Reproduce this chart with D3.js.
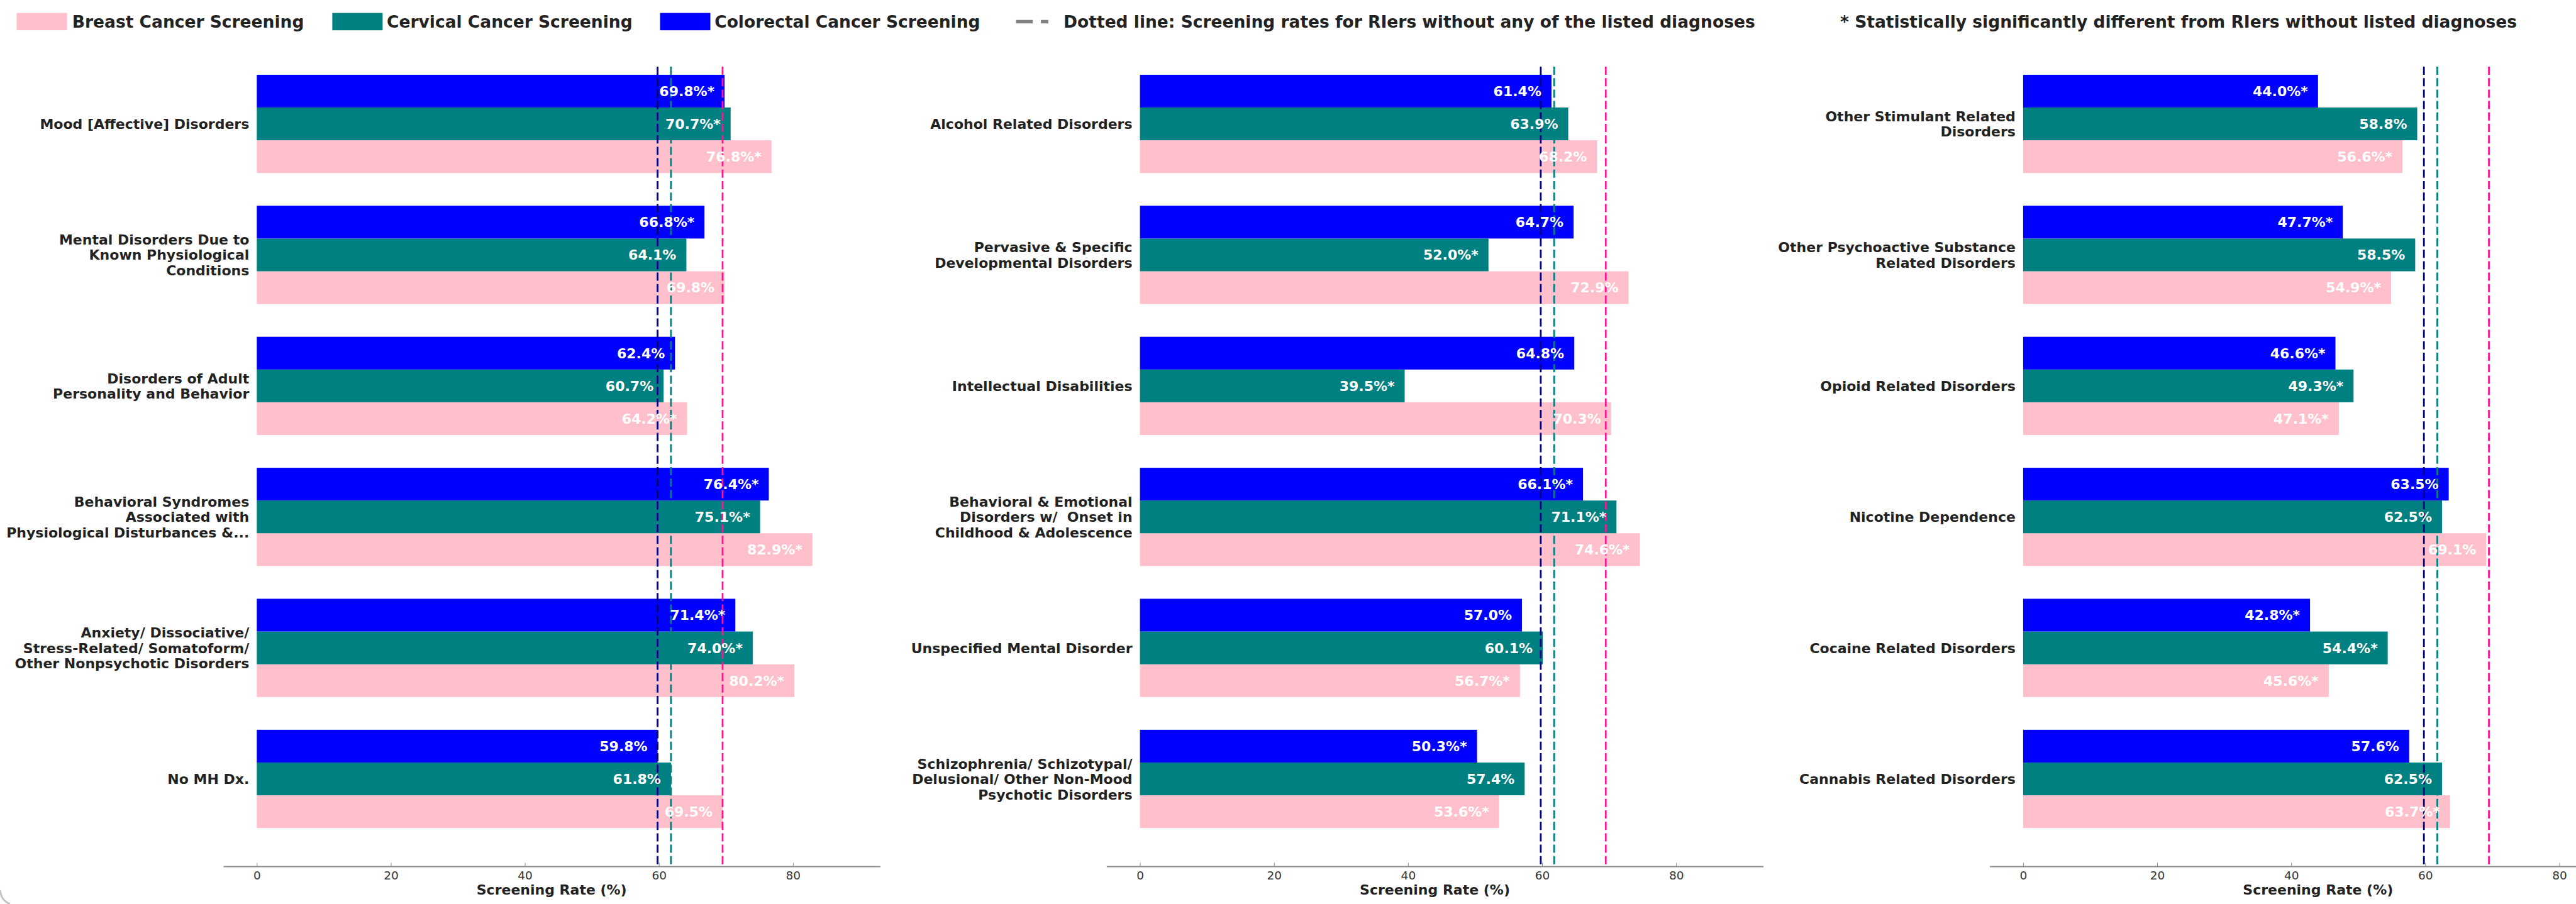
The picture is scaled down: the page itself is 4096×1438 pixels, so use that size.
<!DOCTYPE html>
<html>
<head>
<meta charset="utf-8">
<script src="https://cdn.jsdelivr.net/npm/d3@7"></script>
<style>
  html, body { margin: 0; padding: 0; background: #ffffff; }
  svg { display: block; font-family: "DejaVu Sans", sans-serif; }
  .cat { white-space: pre; }
</style>
</head>
<body>
<svg id="chart" width="4096" height="1438"></svg>
<script>
// ---------------- Data ----------------
const seriesNames = ["Breast Cancer Screening", "Cervical Cancer Screening", "Colorectal Cancer Screening"];
const xTicks = [0, 20, 40, 60, 80];
// Screening rates among RIers without any listed diagnosis: breast, cervical, colorectal
const referenceRates = [69.5, 61.8, 59.8];

const mhCategories = [
  "Mood [Affective] Disorders",
  "Mental Disorders Due to\nKnown Physiological\nConditions",
  "Disorders of Adult\nPersonality and Behavior",
  "Behavioral Syndromes\nAssociated with\nPhysiological Disturbances &...",
  "Anxiety/ Dissociative/\nStress-Related/ Somatoform/\nOther Nonpsychotic Disorders",
  "No MH Dx."
];
const mhColorectal = [69.8, 66.8, 62.4, 76.4, 71.4, 59.8];
const mhCervical   = [70.7, 64.1, 60.7, 75.1, 74.0, 61.8];
const mhBreast     = [76.8, 69.8, 64.2, 82.9, 80.2, 69.5];
const mhColorectalSig = [1, 1, 0, 1, 1, 0];
const mhCervicalSig   = [1, 0, 0, 1, 1, 0];
const mhBreastSig     = [1, 0, 1, 1, 1, 0];

const devCategories = [
  "Alcohol Related Disorders",
  "Pervasive & Specific\nDevelopmental Disorders",
  "Intellectual Disabilities",
  "Behavioral & Emotional\nDisorders w/  Onset in\nChildhood & Adolescence",
  "Unspecified Mental Disorder",
  "Schizophrenia/ Schizotypal/\nDelusional/ Other Non-Mood\nPsychotic Disorders"
];
const devColorectal = [61.4, 64.7, 64.8, 66.1, 57.0, 50.3];
const devCervical   = [63.9, 52.0, 39.5, 71.1, 60.1, 57.4];
const devBreast     = [68.2, 72.9, 70.3, 74.6, 56.7, 53.6];
const devColorectalSig = [0, 0, 0, 1, 0, 1];
const devCervicalSig   = [0, 1, 1, 1, 0, 0];
const devBreastSig     = [0, 0, 0, 1, 1, 1];

const subCategories = [
  "Other Stimulant Related\nDisorders",
  "Other Psychoactive Substance\nRelated Disorders",
  "Opioid Related Disorders",
  "Nicotine Dependence",
  "Cocaine Related Disorders",
  "Cannabis Related Disorders"
];
const subColorectal = [44.0, 47.7, 46.6, 63.5, 42.8, 57.6];
const subCervical   = [58.8, 58.5, 49.3, 62.5, 54.4, 62.5];
const subBreast     = [56.6, 54.9, 47.1, 69.1, 45.6, 63.7];
const subColorectalSig = [1, 1, 1, 0, 1, 0];
const subCervicalSig   = [0, 0, 1, 0, 1, 0];
const subBreastSig     = [1, 1, 1, 0, 1, 1];

// ---------------- Styling / layout ----------------
const barColors  = ["#FFC0CB", "#008080", "#0000FF"];   // breast, cervical, colorectal
const lineColors = ["#FF1493", "#008080", "#000080"];
const barOffsets = [0.25, 0, -0.25];                     // breast below, colorectal on top
const barHeight = 0.25;

const panels = [
  { cats: mhCategories,  vals: [mhBreast,  mhCervical,  mhColorectal],  sig: [mhBreastSig,  mhCervicalSig,  mhColorectalSig] },
  { cats: devCategories, vals: [devBreast, devCervical, devColorectal], sig: [devBreastSig, devCervicalSig, devColorectalSig] },
  { cats: subCategories, vals: [subBreast, subCervical, subColorectal], sig: [subBreastSig, subCervicalSig, subColorectalSig] }
];

const PANEL_X0 = 355, PANEL_STEP = 1404.3, PANEL_W = 1044.4;
const PLOT_TOP = 106, PLOT_BOTTOM = 1378;
const LABEL_SIZE = 22, LINE_H = 24.5;

const svg = d3.select("#chart");

panels.forEach((p, pi) => {
  const left = PANEL_X0 + pi * PANEL_STEP;
  const x = d3.scaleLinear().domain([-5, 93]).range([left, left + PANEL_W]);
  const y = d3.scaleLinear().domain([-0.437, 5.667]).range([PLOT_TOP, PLOT_BOTTOM]);
  const g = svg.append("g");

  // bars
  const barG = g.append("g");
  p.vals.forEach((series, si) => {
    barG.selectAll(null)
      .data(series.map((v, j) => ({ v, j })))
      .join("rect")
      .attr("x", x(0))
      .attr("width", d => x(d.v) - x(0))
      .attr("y", d => y(d.j + barOffsets[si] - barHeight / 2))
      .attr("height", y(barHeight) - y(0))
      .attr("fill", barColors[si]);
  });

  // reference lines (rates without listed diagnoses)
  g.append("g").selectAll("line")
    .data(referenceRates)
    .join("line")
    .attr("x1", d => x(d)).attr("x2", d => x(d))
    .attr("y1", PLOT_TOP).attr("y2", PLOT_BOTTOM)
    .attr("stroke", (d, i) => lineColors[i])
    .attr("stroke-width", 2.8)
    .attr("stroke-dasharray", "13,5.2");

  // value labels
  const labG = g.append("g");
  p.vals.forEach((series, si) => {
    labG.selectAll(null)
      .data(series.map((v, j) => ({ v, j, s: p.sig[si][j] })))
      .join("text")
      .attr("x", d => x(d.v - 1.5))
      .attr("y", d => y(d.j + barOffsets[si]))
      .attr("dy", "0.36em")
      .attr("text-anchor", "end")
      .attr("font-size", LABEL_SIZE)
      .attr("font-weight", "bold")
      .attr("fill", "#ffffff")
      .text(d => d.v.toFixed(1) + "%" + (d.s ? "*" : ""));
  });

  // category labels
  const catG = g.append("g");
  p.cats.forEach((c, j) => {
    const lines = c.split("\n");
    const t = catG.append("text")
      .attr("class", "cat")
      .attr("text-anchor", "end")
      .attr("font-size", LABEL_SIZE)
      .attr("font-weight", "bold")
      .attr("fill", "#222222");
    lines.forEach((ln, k) => {
      t.append("tspan")
        .attr("x", x(0) - 12)
        .attr("y", y(j) - (lines.length - 1) / 2 * LINE_H + k * LINE_H + 0.365 * LABEL_SIZE)
        .text(ln);
    });
  });

  // x axis
  const axis = d3.axisBottom(x).tickValues(xTicks).tickSize(-5.5).tickSizeOuter(0).tickPadding(8);
  const ax = g.append("g").attr("transform", `translate(0,${PLOT_BOTTOM})`).call(axis);
  ax.select(".domain").attr("stroke", "#8a8a8a").attr("stroke-width", 2);
  ax.selectAll(".tick line").attr("stroke", "#8a8a8a").attr("stroke-width", 1);
  ax.selectAll(".tick text")
    .attr("font-size", 18.5)
    .attr("font-family", "DejaVu Sans, sans-serif")
    .attr("fill", "#333333");

  g.append("text")
    .attr("x", (x.range()[0] + x.range()[1]) / 2)
    .attr("y", 1423)
    .attr("text-anchor", "middle")
    .attr("font-size", LABEL_SIZE)
    .attr("font-weight", "bold")
    .attr("fill", "#222222")
    .text("Screening Rate (%)");
});

// ---------------- Legend ----------------
const legend = svg.append("g");
const LEG_SIZE = 26.5, LEG_BASE = 44.2;
const patchX = [26.5, 528.4, 1049.5];
const textX = [114.8, 615.1, 1136.2];
seriesNames.forEach((name, i) => {
  legend.append("rect")
    .attr("x", patchX[i]).attr("y", 20.6)
    .attr("width", 80).attr("height", 27.6)
    .attr("fill", barColors[i]);
  legend.append("text")
    .attr("x", textX[i]).attr("y", LEG_BASE)
    .attr("font-size", LEG_SIZE).attr("font-weight", "bold").attr("fill", "#222222")
    .text(name);
});
legend.append("line")
  .attr("x1", 1615.6).attr("x2", 1667).attr("y1", 34.4).attr("y2", 34.4)
  .attr("stroke", "#808080").attr("stroke-width", 5.5)
  .attr("stroke-dasharray", "26.5,13");
legend.append("text")
  .attr("x", 1691.1).attr("y", LEG_BASE)
  .attr("font-size", LEG_SIZE).attr("font-weight", "bold").attr("fill", "#222222")
  .text("Dotted line: Screening rates for RIers without any of the listed diagnoses");
legend.append("text")
  .attr("x", 2926.1).attr("y", LEG_BASE)
  .attr("font-size", LEG_SIZE).attr("font-weight", "bold").attr("fill", "#222222")
  .text("* Statistically significantly different from RIers without listed diagnoses");

// frame corner
svg.append("path")
  .attr("d", "M0,1416 Q2,1433 16,1438")
  .attr("fill", "none")
  .attr("stroke", "#c4c4c4")
  .attr("stroke-width", 3);
</script>
</body>
</html>
